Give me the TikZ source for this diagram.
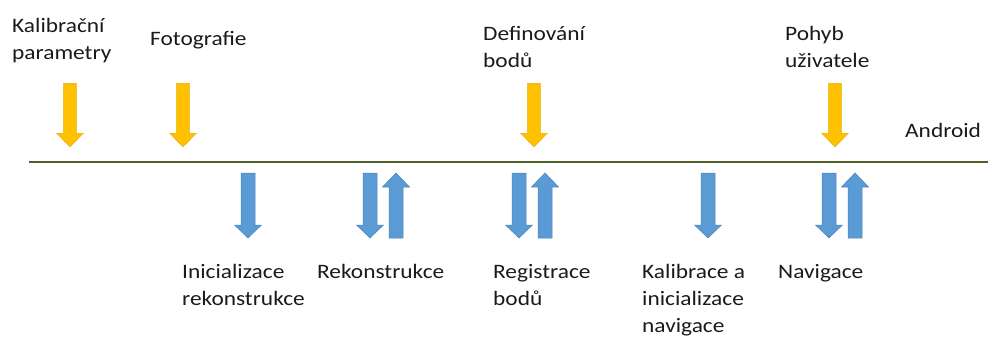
\documentclass[tikz,border=0pt]{standalone}
\usepackage{fontspec}
\setmainfont{Carlito}[FakeStretch=1.14]
\definecolor{arrYellow}{HTML}{FFC000}
\definecolor{arrYellowEdge}{HTML}{E8AE00}
\definecolor{arrBlue}{HTML}{5B9BD5}
\definecolor{arrBlueEdge}{HTML}{4A83B8}
\definecolor{lineGreen}{HTML}{4F6228}
\definecolor{txt}{HTML}{1A1A1A}
% down arrow: #1 centre x, #2 top y, #3 head base y, #4 tip y, #5 half shaft, #6 half head
\newcommand\myDownArr[6]{%
  (#1-#5,#2) -- (#1+#5,#2) -- (#1+#5,#3) -- (#1+#6,#3) -- (#1,#4) -- (#1-#6,#3) -- (#1-#5,#3) -- cycle}
\begin{document}
\begin{tikzpicture}[x=1pt,y=-1pt,
  lbl/.style={anchor=base west,inner sep=0pt,align=left,text=txt,
    font=\fontsize{20.5}{27}\selectfont},
  yarr/.style={fill=arrYellow,draw=arrYellowEdge,line width=0.5pt},
  barr/.style={fill=arrBlue,draw=arrBlueEdge,line width=0.5pt}]
\useasboundingbox (0,0) rectangle (988,338);
% timeline
\coordinate (L0) at (29,162);
\coordinate (L1) at (988,162);
\draw[lineGreen,line width=2.2pt] (L0) -- (L1);
% top labels (anchor = baseline of last line)
\node[lbl] (kal) at (12,59) {Kalibrační\\parametry};
\node[lbl] (foto) at (150,45) {Fotografie};
\node[lbl] (def) at (483,67) {Definování\\bodů};
\node[lbl] (poh) at (785,67) {Pohyb\\uživatele};
\node[lbl] (and) at (905,137) {Android};
% yellow arrows
\draw[yarr] \myDownArr{70}{83.3}{133.3}{146.7}{6.4}{13.3};
\draw[yarr] \myDownArr{183}{83.3}{133.3}{146.7}{6.4}{13.3};
\draw[yarr] \myDownArr{534}{83.3}{133.3}{146.7}{6.4}{13.3};
\draw[yarr] \myDownArr{835}{83.3}{133.3}{146.7}{6.4}{13.3};
% blue arrows
\draw[barr] \myDownArr{248}{173}{225}{238}{7}{13.5};
\draw[barr] \myDownArr{370}{173}{225}{238}{7}{13.5};
\draw[barr] \myDownArr{396}{238}{187}{173}{7}{13.5};
\draw[barr] \myDownArr{519}{173}{225}{238}{7}{13.5};
\draw[barr] \myDownArr{545}{238}{187}{173}{7}{13.5};
\draw[barr] \myDownArr{708}{173}{225}{238}{7}{13.5};
\draw[barr] \myDownArr{829}{173}{225}{238}{7}{13.5};
\draw[barr] \myDownArr{855}{238}{187}{173}{7}{13.5};
% bottom labels (anchor = baseline of last line)
\node[lbl] (ini) at (182,305) {Inicializace\\rekonstrukce};
\node[lbl] (rek) at (317,278) {Rekonstrukce};
\node[lbl] (reg) at (493,305) {Registrace\\bodů};
\node[lbl] (kin) at (642,332) {Kalibrace a\\inicializace\\navigace};
\node[lbl] (nav) at (778,278) {Navigace};
\end{tikzpicture}
\end{document}
